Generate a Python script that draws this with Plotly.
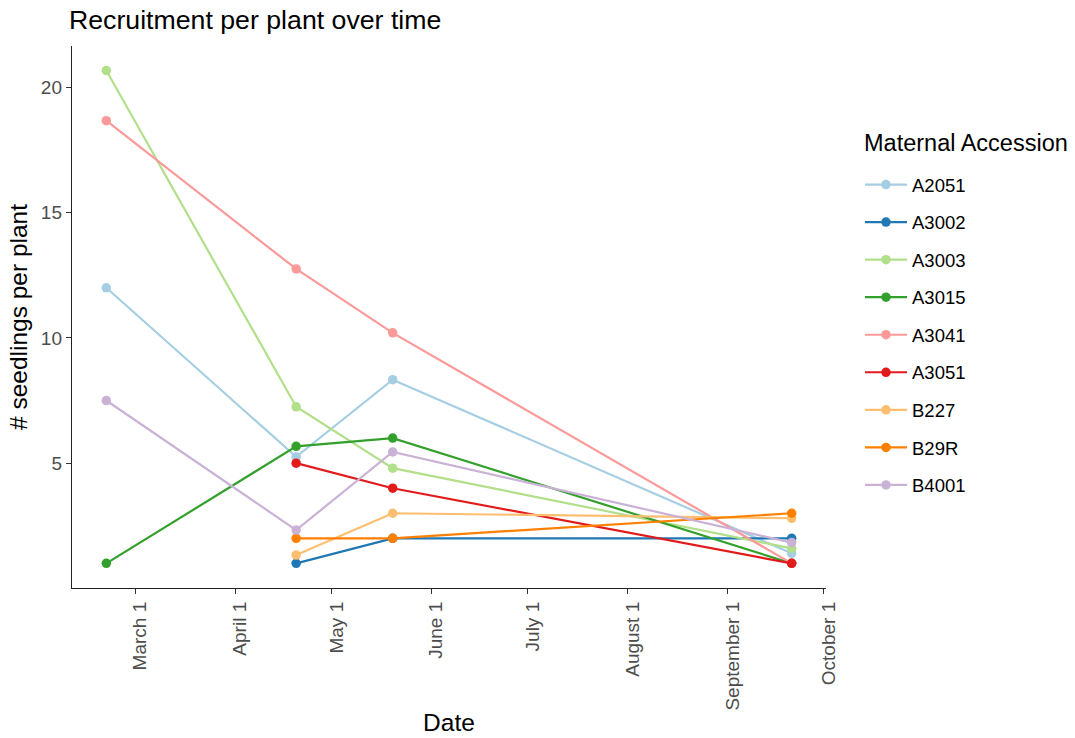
import plotly.graph_objects as go

# Survey dates
dates = ["2019-02-20", "2019-04-20", "2019-05-20", "2019-09-21"]

# Seedlings per plant for each maternal accession (None = not surveyed)
accessions = ["A2051", "A3002", "A3003", "A3015", "A3041", "A3051", "B227", "B29R", "B4001"]
a2051 = [12.0, 5.25, 8.33, 1.4]
a3002 = [None, 1.0, 2.0, 2.0]
a3003 = [20.67, 7.25, 4.8, 1.6]
a3015 = [1.0, 5.67, 6.0, 1.0]
a3041 = [18.67, 12.75, 10.2, 1.0]
a3051 = [None, 5.0, 4.0, 1.0]
b227 = [None, 1.33, 3.0, 2.8]
b29r = [None, 2.0, 2.0, 3.0]
b4001 = [7.5, 2.33, 5.45, 1.83]
series = [a2051, a3002, a3003, a3015, a3041, a3051, b227, b29r, b4001]

# Brewer "Paired" palette
colors = ["#A6CEE3", "#1F78B4", "#B2DF8A", "#33A02C", "#FB9A99",
          "#E31A1C", "#FDBF6F", "#FF7F00", "#CAB2D6"]

tick_dates = ["2019-03-01", "2019-04-01", "2019-05-01", "2019-06-01",
              "2019-07-01", "2019-08-01", "2019-09-01", "2019-10-01"]
tick_labels = ["March 1", "April 1", "May 1", "June 1",
               "July 1", "August 1", "September 1", "October 1"]

FONT = "Liberation Sans, Arial, Helvetica, sans-serif"
W, H = 1075, 738
L, R, T, B = 72, 249, 46, 150

fig = go.Figure()
for name, vals, col in zip(accessions, series, colors):
    xs = [d for d, v in zip(dates, vals) if v is not None]
    ys = [v for v in vals if v is not None]
    fig.add_trace(go.Scatter(
        x=xs, y=ys, name=name, legendgroup=name,
        mode="lines+markers",
        line=dict(color=col, width=2.2),
        marker=dict(color=col, size=9.5),
    ))

plot_w = W - L - R
plot_h = H - T - B

fig.update_layout(
    width=W, height=H,
    margin=dict(l=L, r=R, t=T, b=B, autoexpand=False),
    paper_bgcolor="white", plot_bgcolor="white",
    font=dict(family=FONT, color="#000000"),
    title=dict(text="Recruitment per plant over time", x=69 / W, xanchor="left",
               y=1 - 20 / H, yanchor="middle",
               font=dict(size=26.7, color="#000000")),
    legend=dict(
        xref="container", yref="container",
        x=860 / W, xanchor="left", y=1 - 166 / H, yanchor="top",
        font=dict(size=18.5, color="#000000"),
        tracegroupgap=10.5, itemwidth=42,
    ),
    annotations=[dict(
        text="Maternal Accession", showarrow=False,
        xref="paper", yref="paper",
        x=(862 - L) / plot_w, xanchor="left",
        y=(H - B - 143) / plot_h, yanchor="middle",
        font=dict(size=23.5, color="#000000"),
    )],
    showlegend=True,
)

fig.update_xaxes(
    type="date", automargin=False,
    range=["2019-02-09 08:00", "2019-10-01 16:00"],
    tickvals=tick_dates, ticktext=tick_labels,
    tickangle=-90, ticklabelshift=5,
    tickfont=dict(size=19, color="#4D4D4D"),
    ticks="outside", ticklen=5, tickwidth=1.3, tickcolor="#333333",
    showline=True, linecolor="#222222", linewidth=1.4,
    showgrid=False, zeroline=False,
    title=dict(text="Date", font=dict(size=24.5), standoff=4),
)
fig.update_yaxes(
    automargin=False,
    range=[0.017, 21.65],
    tickvals=[5, 10, 15, 20],
    tickfont=dict(size=19, color="#4D4D4D"),
    ticks="outside", ticklen=5, tickwidth=1.3, tickcolor="#333333",
    showline=True, linecolor="#222222", linewidth=1.4,
    showgrid=False, zeroline=False,
    title=dict(text="# seedlings per plant", font=dict(size=24.5), standoff=6),
)

fig.write_html("out.html")
